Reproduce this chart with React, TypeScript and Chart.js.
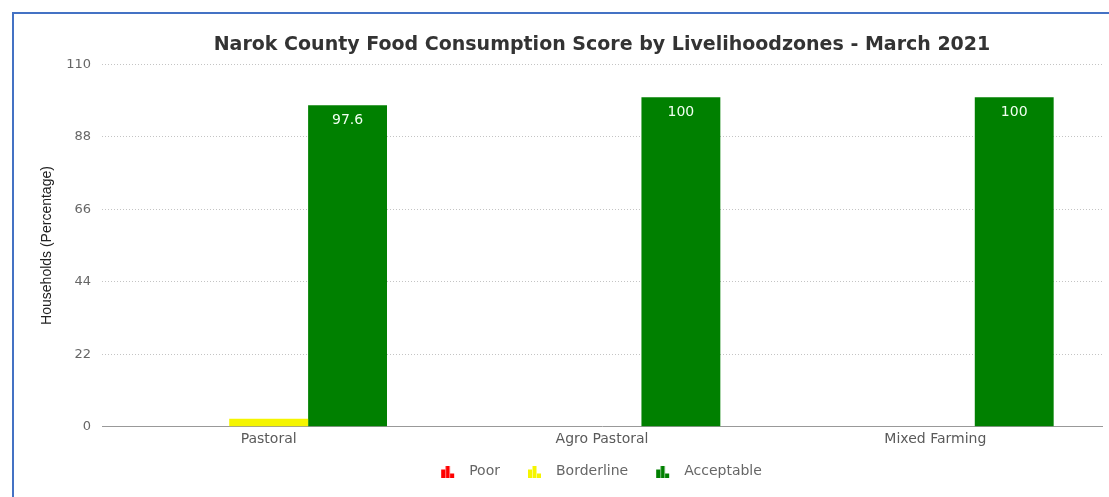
import React, { useEffect, useRef } from "react";
import { Chart, registerables } from "chart.js";

Chart.register(...registerables);

const categories = ["Pastoral", "Agro Pastoral", "Mixed Farming"];
const seriesNames = ["Poor", "Borderline", "Acceptable"];
const poorValues = [0, 0, 0];
const borderlineValues = [2.4, 0, 0];
const acceptableValues = [97.6, 100, 100];
const seriesColors = ["#ff0000", "#f5f500", "#008000"];
const yTicks = [0, 22, 44, 66, 88, 110];
const chartTitle = "Narok County Food Consumption Score by Livelihoodzones - March 2021";
const yAxisTitle = "Households (Percentage)";

function makeIcon(color: string): HTMLCanvasElement {
  const c = document.createElement("canvas");
  c.width = 36;
  c.height = 12;
  const ctx = c.getContext("2d")!;
  ctx.fillStyle = color;
  const hs = [8, 12, 4];
  hs.forEach((h, i) => {
    ctx.fillRect(15 + i * 4.5, 12 - h, 4, h);
  });
  return c;
}

const valueLabelPlugin = {
  id: "valueLabels",
  afterDatasetsDraw(chart: any) {
    const ctx = chart.ctx;
    ctx.save();
    ctx.font = "14px 'DejaVu Sans', sans-serif";
    ctx.fillStyle = "#f0fff0";
    ctx.textAlign = "center";
    ctx.textBaseline = "middle";
    chart.data.datasets.forEach((ds: any, di: number) => {
      const meta = chart.getDatasetMeta(di);
      meta.data.forEach((bar: any, i: number) => {
        const v = ds.data[i];
        if (bar.base - bar.y < 30) return;
        ctx.fillText(String(v), bar.x, bar.y + 15);
      });
    });
    ctx.restore();
  },
};

const legendShiftPlugin = {
  id: "legendShift",
  afterLayout(chart: any) {
    if (chart.legend) {
      chart.legend.left -= 8;
      chart.legend.right -= 8;
    }
  },
};

export default function App() {
  const ref = useRef<HTMLCanvasElement>(null);
  useEffect(() => {
    if (!ref.current) return;
    Chart.defaults.font.family = "'DejaVu Sans', sans-serif";
    const values = [poorValues, borderlineValues, acceptableValues];
    const chart = new Chart(ref.current, {
      type: "bar",
      data: {
        labels: categories,
        datasets: seriesNames.map((n, i) => ({
          label: n,
          data: values[i],
          backgroundColor: seriesColors[i],
          borderWidth: 0,
          barPercentage: 1,
          categoryPercentage: 0.71,
          pointStyle: makeIcon(seriesColors[i]),
        })),
      },
      options: {
        animation: false,
        responsive: true,
        maintainAspectRatio: false,
        layout: { padding: { left: 0, right: 7, top: 0, bottom: 8.5 } },
        plugins: {
          title: {
            display: true,
            text: chartTitle,
            fullSize: false,
            color: "#333333",
            font: { size: 19, weight: "bold", family: "'DejaVu Sans', sans-serif" },
            padding: { top: 20, bottom: 7.5 },
          },
          legend: {
            position: "bottom",
            fullSize: false,
            labels: {
              usePointStyle: true,
              pointStyleWidth: 36,
              color: "#666666",
              font: { size: 14 },
              padding: 13,
            },
          },
          tooltip: { enabled: false },
        },
        scales: {
          x: {
            grid: { display: false, drawTicks: false },
            border: { display: true, color: "#999999", width: 1 },
            ticks: { color: "#5a5a5a", font: { size: 14 }, padding: 4 },
          },
          y: {
            min: 0,
            max: 110,
            afterBuildTicks: (s: any) => {
              s.ticks = yTicks.map((v) => ({ value: v }));
            },
            afterFit: (s: any) => {
              s.width = 88;
            },
            grid: { color: "#c4c4c4", drawTicks: false, lineWidth: 1 },
            border: { display: false, dash: [1, 2] },
            ticks: { color: "#666666", font: { size: 13 }, padding: 11 },
            title: {
              display: true,
              text: yAxisTitle,
              color: "#222222",
              font: { size: 14, family: "'Liberation Sans Narrow', 'Arial Narrow', sans-serif" },
              padding: { top: 25, bottom: 0 },
            },
          },
        },
      },
      plugins: [valueLabelPlugin, legendShiftPlugin],
    });
    return () => chart.destroy();
  }, []);

  return (
    <div
      style={{
        position: "fixed",
        left: 12,
        top: 12,
        right: 0,
        bottom: 0,
        borderLeft: "2px solid #4472c4",
        borderTop: "2px solid #4472c4",
        background: "#fff",
      }}
    >
      <div style={{ position: "absolute", left: 0, top: 0, width: 1095, height: 483 }}>
        <canvas ref={ref} />
      </div>
    </div>
  );
}
